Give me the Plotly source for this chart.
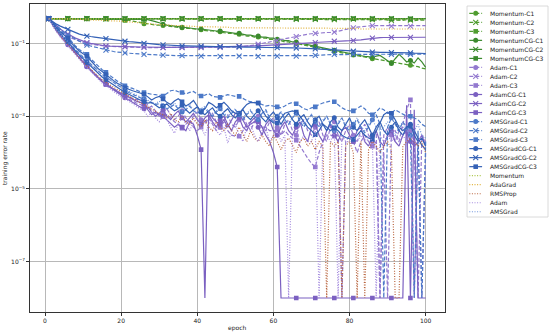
import plotly.graph_objects as go

EPOCHS = list(range(1, 101))

# ---- training error rate per epoch ----
momentum_c1 = [
    0.48, 0.48, 0.48, 0.48, 0.48, 0.48, 0.48, 0.48, 0.48, 0.48,
    0.48, 0.48, 0.48, 0.48, 0.48, 0.48, 0.47, 0.47, 0.47, 0.46,
    0.45, 0.43, 0.41, 0.39, 0.37, 0.35, 0.34, 0.33, 0.32, 0.32,
    0.31, 0.30, 0.29, 0.28, 0.28, 0.27, 0.26, 0.26, 0.25, 0.24,
    0.24, 0.23, 0.22, 0.22, 0.21, 0.21, 0.20, 0.19, 0.19, 0.18,
    0.18, 0.17, 0.16, 0.16, 0.15, 0.15, 0.14, 0.14, 0.13, 0.13,
    0.12, 0.12, 0.11, 0.11, 0.10, 0.10, 0.095, 0.09, 0.085, 0.08,
    0.077, 0.073, 0.07, 0.066, 0.063, 0.06, 0.057, 0.055, 0.052, 0.05,
    0.048, 0.046, 0.044, 0.042, 0.04, 0.038, 0.037, 0.035, 0.033, 0.032,
    0.03, 0.029, 0.028, 0.027, 0.026, 0.025, 0.024, 0.023, 0.021, 0.02]
momentum_c2 = [
    0.48, 0.48, 0.48, 0.48, 0.48, 0.48, 0.48, 0.48, 0.48, 0.48,
    0.48, 0.48, 0.47, 0.48, 0.48, 0.47, 0.48, 0.48, 0.47, 0.47,
    0.47, 0.47, 0.48, 0.47, 0.47, 0.47, 0.47, 0.47, 0.47, 0.47,
    0.47, 0.47, 0.47, 0.47, 0.47, 0.47, 0.47, 0.47, 0.47, 0.47,
    0.47, 0.47, 0.47, 0.47, 0.47, 0.47, 0.47, 0.47, 0.47, 0.47,
    0.47, 0.47, 0.47, 0.46, 0.47, 0.47, 0.46, 0.47, 0.46, 0.46,
    0.46, 0.46, 0.46, 0.46, 0.46, 0.46, 0.46, 0.46, 0.46, 0.46,
    0.46, 0.46, 0.46, 0.45, 0.46, 0.45, 0.46, 0.45, 0.45, 0.45,
    0.47, 0.46, 0.46, 0.45, 0.46, 0.45, 0.44, 0.45, 0.46, 0.44,
    0.43, 0.45, 0.44, 0.43, 0.45, 0.44, 0.42, 0.44, 0.43, 0.44]
momentum_c3 = [
    0.48, 0.48, 0.48, 0.48, 0.48, 0.48, 0.48, 0.48, 0.48, 0.48,
    0.48, 0.48, 0.48, 0.48, 0.48, 0.48, 0.48, 0.48, 0.48, 0.48,
    0.43, 0.46, 0.47, 0.48, 0.48, 0.48, 0.48, 0.48, 0.48, 0.48,
    0.48, 0.48, 0.48, 0.48, 0.48, 0.48, 0.48, 0.48, 0.48, 0.48,
    0.48, 0.48, 0.48, 0.48, 0.48, 0.48, 0.48, 0.48, 0.48, 0.48,
    0.48, 0.48, 0.48, 0.48, 0.48, 0.48, 0.48, 0.48, 0.48, 0.48,
    0.48, 0.48, 0.48, 0.48, 0.48, 0.48, 0.48, 0.48, 0.48, 0.48,
    0.48, 0.48, 0.48, 0.48, 0.48, 0.48, 0.48, 0.48, 0.48, 0.48,
    0.48, 0.48, 0.48, 0.48, 0.48, 0.47, 0.46, 0.47, 0.45, 0.46,
    0.47, 0.45, 0.44, 0.46, 0.47, 0.46, 0.47, 0.45, 0.47, 0.48]
momentumcg_c1 = [
    0.48, 0.48, 0.48, 0.48, 0.48, 0.48, 0.48, 0.48, 0.48, 0.48,
    0.48, 0.48, 0.48, 0.48, 0.48, 0.48, 0.48, 0.48, 0.48, 0.48,
    0.48, 0.48, 0.48, 0.47, 0.47, 0.46, 0.45, 0.43, 0.40, 0.37,
    0.34, 0.32, 0.31, 0.30, 0.29, 0.28, 0.27, 0.27, 0.26, 0.25,
    0.25, 0.24, 0.23, 0.23, 0.22, 0.22, 0.21, 0.20, 0.20, 0.19,
    0.19, 0.18, 0.17, 0.17, 0.16, 0.16, 0.15, 0.15, 0.14, 0.14,
    0.13, 0.13, 0.12, 0.12, 0.11, 0.11, 0.10, 0.097, 0.092, 0.088,
    0.084, 0.08, 0.076, 0.072, 0.068, 0.065, 0.062, 0.059, 0.056, 0.053,
    0.05, 0.048, 0.046, 0.044, 0.043, 0.042, 0.045, 0.047, 0.04, 0.034,
    0.028, 0.038, 0.05, 0.04, 0.031, 0.034, 0.029, 0.04, 0.031, 0.022]
momentumcg_c2 = [
    0.48, 0.48, 0.48, 0.48, 0.48, 0.48, 0.48, 0.48, 0.48, 0.48,
    0.48, 0.48, 0.48, 0.48, 0.48, 0.48, 0.48, 0.48, 0.48, 0.48,
    0.48, 0.48, 0.48, 0.48, 0.48, 0.48, 0.48, 0.48, 0.48, 0.48,
    0.48, 0.48, 0.48, 0.48, 0.48, 0.48, 0.48, 0.48, 0.48, 0.48,
    0.48, 0.48, 0.48, 0.48, 0.48, 0.48, 0.48, 0.48, 0.48, 0.48,
    0.48, 0.48, 0.48, 0.48, 0.48, 0.48, 0.48, 0.48, 0.48, 0.48,
    0.48, 0.48, 0.48, 0.48, 0.48, 0.48, 0.48, 0.48, 0.48, 0.48,
    0.48, 0.48, 0.48, 0.48, 0.48, 0.48, 0.48, 0.48, 0.48, 0.48,
    0.48, 0.48, 0.48, 0.48, 0.48, 0.48, 0.48, 0.48, 0.48, 0.48,
    0.48, 0.47, 0.48, 0.47, 0.48, 0.47, 0.48, 0.47, 0.47, 0.48]
momentumcg_c3 = [
    0.48, 0.48, 0.48, 0.48, 0.48, 0.48, 0.48, 0.48, 0.48, 0.48,
    0.48, 0.48, 0.48, 0.48, 0.48, 0.48, 0.48, 0.48, 0.48, 0.48,
    0.48, 0.48, 0.48, 0.48, 0.48, 0.48, 0.48, 0.48, 0.48, 0.48,
    0.48, 0.48, 0.48, 0.48, 0.48, 0.48, 0.48, 0.48, 0.48, 0.48,
    0.48, 0.48, 0.48, 0.48, 0.48, 0.48, 0.48, 0.48, 0.48, 0.48,
    0.48, 0.48, 0.48, 0.48, 0.48, 0.48, 0.48, 0.48, 0.48, 0.48,
    0.48, 0.48, 0.48, 0.48, 0.48, 0.48, 0.48, 0.48, 0.48, 0.48,
    0.48, 0.48, 0.48, 0.48, 0.48, 0.48, 0.48, 0.48, 0.48, 0.48,
    0.48, 0.48, 0.48, 0.48, 0.48, 0.48, 0.48, 0.48, 0.48, 0.48,
    0.48, 0.48, 0.48, 0.48, 0.48, 0.48, 0.48, 0.48, 0.48, 0.48]

adam_c1 = [
    0.48, 0.32, 0.23, 0.17, 0.13, 0.10, 0.075, 0.056, 0.042, 0.032,
    0.025, 0.019, 0.015, 0.012, 0.0095, 0.0078, 0.0065, 0.0055, 0.0047, 0.004,
    0.0035, 0.003, 0.0026, 0.0023, 0.0021, 0.0019, 0.0016, 0.0019, 0.0014, 0.0011,
    0.0013, 0.0016, 0.0011, 0.0008, 0.001, 0.0014, 0.0009, 0.0007, 0.001, 0.0013,
    0.0008, 0.0006, 0.0009, 0.0012, 0.0007, 0.0005, 0.0008, 0.0011, 0.0006, 0.0005,
    0.0008, 0.001, 0.0006, 0.0004, 0.0007, 0.001, 0.0005, 0.0004, 0.0007, 0.0009,
    0.0005, 0.0003, 0.0006, 0.0008, 0.0004, 0.0003, 0.0006, 0.0008, 0.0004, 0.0003,
    0.0005, 0.0007, 0.0003, 0.0002, 0.0005, 0.0007, 0.0003, 0.0002, 0.0004, 0.0006,
    0.0003, 0.0002, 0.0004, 0.0006, 0.0003, 0.0002, 0.0004, 1e-8, 0.0003, 0.0005,
    0.0003, 0.0002, 0.0004, 0.0005, 0.0003, 0.0004, 0.0002, 1e-8, 0.0003, 0.0002]
adam_c2 = [
    0.48, 0.36, 0.28, 0.22, 0.18, 0.155, 0.14, 0.125, 0.115, 0.105,
    0.10, 0.096, 0.092, 0.089, 0.087, 0.085, 0.083, 0.082, 0.081, 0.08,
    0.08, 0.079, 0.079, 0.078, 0.078, 0.078, 0.077, 0.077, 0.077, 0.077,
    0.077, 0.077, 0.077, 0.077, 0.077, 0.077, 0.077, 0.077, 0.077, 0.077,
    0.077, 0.077, 0.078, 0.078, 0.078, 0.078, 0.079, 0.079, 0.079, 0.08,
    0.08, 0.082, 0.084, 0.086, 0.09, 0.095, 0.10, 0.105, 0.11, 0.115,
    0.12, 0.125, 0.13, 0.138, 0.146, 0.155, 0.165, 0.175, 0.18, 0.185,
    0.19, 0.195, 0.20, 0.20, 0.20, 0.205, 0.215, 0.23, 0.245, 0.26,
    0.27, 0.28, 0.29, 0.30, 0.305, 0.31, 0.31, 0.31, 0.31, 0.30,
    0.30, 0.30, 0.30, 0.30, 0.30, 0.30, 0.30, 0.30, 0.31, 0.31]
adam_c3 = [
    0.48, 0.34, 0.25, 0.19, 0.15, 0.12, 0.085, 0.06, 0.043, 0.032,
    0.024, 0.018, 0.014, 0.011, 0.009, 0.0076, 0.0065, 0.0056, 0.0048, 0.0042,
    0.0038, 0.0034, 0.0031, 0.0029, 0.0028, 0.0028, 0.002, 0.0014, 0.0012, 0.001,
    9.8e-4, 1.1e-3, 9e-4, 7e-4, 6e-4, 4.7e-4, 6e-4, 8e-4, 5e-4, 4e-4,
    5e-4, 7e-4, 9e-4, 6e-4, 4e-4, 5e-4, 7e-4, 4e-4, 3e-4, 2.8e-4,
    2.8e-4, 4e-4, 6e-4, 7e-4, 7e-4, 7e-4, 5e-4, 5e-4, 4e-4, 4e-4,
    4.2e-4, 3e-4, 4e-4, 3e-4, 2.5e-4, 2.2e-4, 1.5e-4, 1e-4, 7e-5, 5e-5,
    4e-5, 1e-4, 2e-4, 3e-4, 3e-4, 2.8e-4, 3e-4, 1e-8, 2e-4, 3e-4,
    2e-4, 1e-4, 2e-4, 3e-4, 2e-4, 1.5e-4, 2e-4, 1e-8, 1e-4, 1e-8,
    3.4e-4, 4e-4, 2e-4, 6e-4, 1.5e-3, 2.8e-3, 1e-8, 2e-4, 1e-8, 1e-4]
adamcg_c1 = [
    0.48, 0.31, 0.22, 0.16, 0.12, 0.092, 0.07, 0.052, 0.039, 0.03,
    0.023, 0.018, 0.014, 0.011, 0.009, 0.0074, 0.0062, 0.0052, 0.0044, 0.0038,
    0.0032, 0.0028, 0.0024, 0.0021, 0.0018, 0.0016, 0.0018, 0.0013, 0.001, 0.0012,
    0.0015, 0.001, 0.0008, 0.0011, 0.0014, 0.0009, 0.0007, 0.0009, 0.0012, 0.0008,
    0.0006, 0.0009, 0.0011, 0.0007, 0.0005, 0.0008, 0.001, 0.0006, 0.0004, 0.0007,
    0.0009, 0.0005, 0.0004, 0.0007, 0.0009, 0.0005, 0.0003, 0.0006, 0.0008, 0.0004,
    0.0003, 0.0005, 0.0007, 0.0004, 0.0003, 0.0005, 0.0007, 0.0003, 0.0002, 0.0005,
    0.0006, 0.0003, 0.0002, 0.0004, 0.0006, 0.0003, 0.0002, 0.0004, 0.0005, 0.0003,
    0.0002, 0.0004, 0.0005, 0.0002, 0.00015, 0.0003, 0.0004, 0.0002, 0.00015, 0.0003,
    0.0004, 0.0002, 0.00015, 0.0003, 0.0004, 0.0002, 0.00015, 0.0002, 0.0003, 0.00015]
adamcg_c2 = [
    0.48, 0.38, 0.30, 0.25, 0.21, 0.18, 0.16, 0.14, 0.125, 0.115,
    0.105, 0.10, 0.095, 0.09, 0.088, 0.085, 0.084, 0.083, 0.083, 0.082,
    0.082, 0.081, 0.081, 0.08, 0.08, 0.08, 0.079, 0.079, 0.079, 0.078,
    0.078, 0.078, 0.078, 0.078, 0.078, 0.078, 0.078, 0.078, 0.079, 0.079,
    0.079, 0.08, 0.08, 0.08, 0.08, 0.081, 0.081, 0.082, 0.082, 0.083,
    0.083, 0.084, 0.084, 0.085, 0.085, 0.086, 0.087, 0.088, 0.089, 0.09,
    0.091, 0.092, 0.093, 0.094, 0.095, 0.096, 0.098, 0.10, 0.102, 0.104,
    0.106, 0.108, 0.11, 0.112, 0.114, 0.115, 0.116, 0.117, 0.118, 0.119,
    0.12, 0.123, 0.126, 0.13, 0.135, 0.14, 0.143, 0.145, 0.146, 0.146,
    0.146, 0.146, 0.146, 0.147, 0.147, 0.147, 0.147, 0.148, 0.148, 0.148]
adamcg_c3 = [
    0.48, 0.33, 0.24, 0.18, 0.14, 0.12, 0.08, 0.055, 0.04, 0.03,
    0.024, 0.018, 0.014, 0.011, 0.009, 0.0076, 0.0065, 0.0056, 0.0048, 0.0042,
    0.0038, 0.0033, 0.0029, 0.0026, 0.0024, 0.0022, 0.0015, 0.0011, 0.0013, 0.0011,
    1e-3, 8e-4, 6e-4, 5e-4, 6e-4, 5e-4, 4e-4, 7e-4, 6e-4, 3e-4,
    1.2e-4, 1e-8, 1.4e-3, 9e-4, 7e-4, 6e-4, 8e-4, 5e-4, 8e-4, 1.2e-3,
    1.2e-3, 8e-4, 5e-4, 6e-4, 7e-4, 7e-4, 5e-4, 3e-4, 2e-4, 1e-4,
    4e-5, 1e-8, 1e-8, 1e-8, 1e-8, 1e-8, 1e-8, 1e-8, 1e-8, 1e-8,
    1e-8, 1e-8, 1e-8, 1e-8, 1e-8, 1e-8, 1e-8, 1e-8, 1e-8, 1e-8,
    1e-8, 1e-8, 1e-8, 1e-8, 1e-8, 1e-8, 1e-8, 1e-8, 1e-8, 1e-8,
    1e-8, 1e-8, 1e-8, 1e-8, 2e-3, 1e-8, 1.5e-3, 1e-8, 1e-8, 1e-8]

amsgrad_c1 = [
    0.48, 0.34, 0.25, 0.19, 0.15, 0.12, 0.09, 0.068, 0.052, 0.042,
    0.034, 0.027, 0.021, 0.017, 0.014, 0.012, 0.01, 0.0085, 0.0072, 0.0062,
    0.0052, 0.0045, 0.004, 0.0036, 0.0033, 0.003, 0.0026, 0.0023, 0.0021, 0.0022,
    0.0019, 0.0016, 0.0018, 0.0021, 0.0016, 0.0013, 0.0015, 0.0019, 0.0014, 0.0012,
    0.0014, 0.0017, 0.0012, 0.001, 0.0013, 0.0016, 0.0011, 0.0009, 0.0012, 0.0015,
    0.0011, 0.0008, 0.0011, 0.0014, 0.001, 0.0008, 0.0012, 0.0015, 0.0009, 0.0007,
    0.001, 0.0013, 0.0008, 0.0006, 0.0009, 0.0012, 0.0007, 0.0005, 0.0008, 0.0011,
    0.0007, 0.0005, 0.0007, 0.001, 0.0006, 0.0004, 0.0006, 0.0009, 0.0005, 0.0004,
    0.0006, 0.0008, 0.0005, 0.00035, 0.0005, 0.0008, 0.0011, 0.0006, 1e-8, 0.0005,
    0.0009, 0.0006, 0.0004, 0.0007, 0.0005, 0.0003, 1e-8, 0.0004, 1e-8, 0.0002]
amsgrad_c2 = [
    0.48, 0.38, 0.30, 0.24, 0.20, 0.17, 0.15, 0.13, 0.115, 0.10,
    0.09, 0.085, 0.08, 0.075, 0.07, 0.066, 0.063, 0.06, 0.058, 0.056,
    0.055, 0.054, 0.053, 0.052, 0.051, 0.05, 0.05, 0.049, 0.049, 0.048,
    0.048, 0.047, 0.047, 0.047, 0.046, 0.046, 0.046, 0.046, 0.045, 0.045,
    0.045, 0.045, 0.045, 0.044, 0.044, 0.044, 0.044, 0.045, 0.045, 0.045,
    0.045, 0.046, 0.046, 0.045, 0.045, 0.044, 0.044, 0.045, 0.046, 0.046,
    0.045, 0.044, 0.044, 0.044, 0.045, 0.045, 0.044, 0.044, 0.045, 0.046,
    0.047, 0.048, 0.049, 0.05, 0.05, 0.05, 0.049, 0.048, 0.049, 0.05,
    0.05, 0.05, 0.049, 0.049, 0.05, 0.05, 0.05, 0.049, 0.049, 0.05,
    0.05, 0.05, 0.049, 0.049, 0.049, 0.05, 0.05, 0.05, 0.05, 0.051]
amsgrad_c3 = [
    0.48, 0.37, 0.29, 0.23, 0.18, 0.15, 0.11, 0.085, 0.068, 0.058,
    0.05, 0.038, 0.03, 0.024, 0.019, 0.016, 0.013, 0.011, 0.0092, 0.008,
    0.0069, 0.0062, 0.0058, 0.0052, 0.0047, 0.0045, 0.0042, 0.004, 0.0039, 0.0037,
    0.0036, 0.0042, 0.005, 0.0052, 0.0047, 0.0045, 0.0041, 0.0045, 0.0048, 0.004,
    0.0036, 0.0038, 0.0042, 0.0035, 0.0034, 0.0033, 0.0036, 0.0039, 0.0037, 0.0035,
    0.0035, 0.003, 0.0027, 0.0025, 0.0024, 0.0023, 0.0021, 0.0019, 0.002, 0.0019,
    0.0018, 0.0017, 0.0019, 0.0022, 0.0024, 0.0022, 0.0019, 0.0016, 0.0015, 0.0017,
    0.0018, 0.0021, 0.0023, 0.0025, 0.0026, 0.0025, 0.002, 0.0017, 0.0015, 0.0014,
    0.0014, 0.0016, 0.0019, 0.0016, 0.0012, 0.0011, 0.0013, 0.0017, 0.0015, 0.0012,
    0.0012, 0.0015, 0.0013, 0.0011, 0.001, 0.001, 0.0009, 0.0008, 0.0006, 0.00052]
amsgradcg_c1 = [
    0.48, 0.33, 0.24, 0.18, 0.14, 0.11, 0.083, 0.063, 0.048, 0.038,
    0.03, 0.024, 0.019, 0.015, 0.012, 0.01, 0.0085, 0.0072, 0.006, 0.0052,
    0.0045, 0.004, 0.0035, 0.0031, 0.0028, 0.0025, 0.0023, 0.0024, 0.002, 0.0017,
    0.0019, 0.0022, 0.0017, 0.0014, 0.0016, 0.002, 0.0015, 0.0012, 0.0015, 0.0018,
    0.0013, 0.0011, 0.0014, 0.0017, 0.0012, 0.001, 0.0013, 0.0016, 0.0011, 0.0009,
    0.0012, 0.0015, 0.001, 0.0008, 0.0011, 0.0014, 0.0009, 0.0007, 0.001, 0.0013,
    0.0009, 0.0006, 0.0009, 0.0012, 0.0008, 0.0006, 0.0009, 0.0011, 0.0007, 0.0005,
    0.0008, 0.001, 0.0006, 0.0004, 0.0007, 0.0009, 0.0005, 0.0004, 0.0006, 0.0009,
    0.0005, 0.0004, 0.0006, 0.0008, 0.0005, 0.0003, 0.0005, 0.0007, 0.0004, 0.0003,
    0.0005, 0.0007, 0.0004, 0.0003, 0.0005, 0.0006, 0.0003, 0.0002, 0.00025, 0.00015]
amsgradcg_c2 = [
    0.48, 0.40, 0.34, 0.30, 0.27, 0.245, 0.22, 0.20, 0.18, 0.17,
    0.16, 0.155, 0.15, 0.145, 0.14, 0.135, 0.13, 0.125, 0.12, 0.118,
    0.115, 0.112, 0.11, 0.107, 0.105, 0.10, 0.098, 0.097, 0.095, 0.093,
    0.092, 0.09, 0.09, 0.088, 0.087, 0.086, 0.086, 0.085, 0.085, 0.084,
    0.084, 0.083, 0.083, 0.082, 0.082, 0.082, 0.081, 0.081, 0.08, 0.08,
    0.08, 0.08, 0.079, 0.079, 0.079, 0.078, 0.078, 0.078, 0.078, 0.077,
    0.077, 0.077, 0.076, 0.076, 0.076, 0.075, 0.075, 0.074, 0.073, 0.072,
    0.071, 0.07, 0.069, 0.068, 0.067, 0.066, 0.065, 0.064, 0.063, 0.062,
    0.061, 0.06, 0.06, 0.059, 0.059, 0.058, 0.058, 0.057, 0.057, 0.057,
    0.056, 0.056, 0.056, 0.055, 0.055, 0.055, 0.054, 0.054, 0.054, 0.053]
amsgradcg_c3 = [
    0.48, 0.36, 0.27, 0.21, 0.17, 0.14, 0.10, 0.078, 0.062, 0.052,
    0.045, 0.034, 0.026, 0.02, 0.017, 0.014, 0.011, 0.0095, 0.008, 0.007,
    0.006, 0.0055, 0.005, 0.0046, 0.0043, 0.004, 0.0034, 0.0028, 0.0032, 0.0035,
    0.003, 0.0024, 0.0021, 0.0026, 0.003, 0.0025, 0.0019, 0.0022, 0.0027, 0.0018,
    0.0013, 0.0016, 0.0024, 0.0021, 0.0017, 0.002, 0.0024, 0.0019, 0.0014, 0.0012,
    0.0012, 0.0016, 0.0021, 0.0024, 0.0023, 0.0023, 0.0015, 0.001, 0.0008, 0.00065,
    0.00065, 0.0009, 0.0012, 0.0013, 0.0014, 0.0013, 0.001, 0.0007, 0.0005, 0.0004,
    0.00031, 0.0004, 0.0006, 0.0005, 0.0004, 0.00048, 0.0004, 0.0003, 0.00026, 0.00024,
    0.00023, 0.0003, 0.0004, 0.0003, 0.00025, 0.00023, 0.0004, 0.0007, 0.0011, 0.0013,
    0.0012, 0.0008, 0.0005, 0.0004, 0.0005, 0.00052, 0.0004, 0.00025, 0.00016, 0.00012]

momentum = [
    0.48, 0.48, 0.48, 0.47, 0.47, 0.47, 0.47, 0.47, 0.47, 0.47,
    0.47, 0.47, 0.47, 0.47, 0.47, 0.47, 0.47, 0.47, 0.47, 0.47,
    0.47, 0.47, 0.47, 0.47, 0.47, 0.47, 0.47, 0.47, 0.47, 0.47,
    0.47, 0.47, 0.47, 0.47, 0.47, 0.47, 0.47, 0.47, 0.47, 0.47,
    0.47, 0.47, 0.47, 0.47, 0.47, 0.47, 0.47, 0.47, 0.47, 0.47,
    0.47, 0.47, 0.47, 0.47, 0.47, 0.47, 0.47, 0.47, 0.47, 0.47,
    0.47, 0.47, 0.47, 0.47, 0.47, 0.47, 0.47, 0.47, 0.47, 0.47,
    0.47, 0.47, 0.47, 0.47, 0.47, 0.47, 0.47, 0.47, 0.47, 0.47,
    0.47, 0.47, 0.47, 0.47, 0.47, 0.47, 0.47, 0.47, 0.47, 0.47,
    0.47, 0.47, 0.47, 0.47, 0.47, 0.47, 0.47, 0.47, 0.47, 0.47]
adagrad = [
    0.48, 0.48, 0.48, 0.47, 0.47, 0.47, 0.46, 0.46, 0.46, 0.45,
    0.45, 0.45, 0.44, 0.44, 0.43, 0.43, 0.42, 0.42, 0.41, 0.41,
    0.40, 0.39, 0.38, 0.38, 0.37, 0.36, 0.35, 0.35, 0.34, 0.33,
    0.33, 0.32, 0.32, 0.31, 0.31, 0.30, 0.30, 0.30, 0.29, 0.29,
    0.29, 0.29, 0.28, 0.28, 0.28, 0.28, 0.28, 0.28, 0.27, 0.27,
    0.27, 0.27, 0.27, 0.27, 0.27, 0.27, 0.27, 0.27, 0.27, 0.27,
    0.27, 0.27, 0.27, 0.27, 0.26, 0.26, 0.26, 0.26, 0.26, 0.26,
    0.26, 0.26, 0.26, 0.26, 0.26, 0.26, 0.26, 0.26, 0.26, 0.26,
    0.26, 0.26, 0.25, 0.25, 0.25, 0.25, 0.25, 0.25, 0.25, 0.25,
    0.25, 0.25, 0.25, 0.25, 0.25, 0.25, 0.25, 0.25, 0.25, 0.25]
rmsprop = [
    0.48, 0.31, 0.22, 0.16, 0.12, 0.09, 0.068, 0.05, 0.038, 0.03,
    0.024, 0.019, 0.015, 0.012, 0.01, 0.0085, 0.0072, 0.0062, 0.0054, 0.0047,
    0.0041, 0.0036, 0.0031, 0.0027, 0.0024, 0.0021, 0.0018, 0.0016, 0.0014, 0.0012,
    0.0011, 0.0009, 0.0012, 0.0008, 0.0007, 0.001, 0.0007, 0.0006, 0.0009, 0.0006,
    0.0005, 0.0008, 0.0005, 0.0004, 0.0007, 0.0005, 0.0004, 0.0006, 0.0004, 0.0003,
    0.0005, 0.0003, 0.0002, 0.0004, 0.00025, 0.0002, 0.0003, 0.0002, 0.00015, 0.0003,
    0.0002, 0.00012, 0.0002, 0.00025, 0.00015, 0.0001, 0.0002, 0.00025, 0.00015, 0.0002,
    0.00012, 0.0002, 0.00015, 1e-8, 0.0002, 0.00015, 0.0002, 1e-8, 0.00015, 0.0002,
    0.0001, 1e-8, 0.0002, 1e-8, 0.00012, 0.0002, 0.00015, 0.0001, 0.00015, 0.0002,
    0.00012, 1e-8, 1e-8, 0.00015, 0.0002, 0.00025, 0.0002, 0.00015, 0.0002, 0.0001]
adam = [
    0.48, 0.30, 0.21, 0.15, 0.11, 0.085, 0.064, 0.048, 0.036, 0.028,
    0.022, 0.017, 0.013, 0.01, 0.0082, 0.0068, 0.0057, 0.0048, 0.004, 0.0034,
    0.003, 0.0026, 0.0022, 0.0019, 0.0016, 0.0014, 0.001, 0.0013, 0.0009, 0.0007,
    0.001, 0.0008, 0.0005, 0.00034, 0.0006, 0.0009, 0.0006, 0.0004, 0.0007, 0.0009,
    0.0005, 0.0003, 0.0006, 0.0008, 0.0004, 0.0003, 0.0005, 0.00018, 0.0004, 0.0006,
    0.0003, 0.0002, 0.0005, 0.0006, 0.0003, 0.0002, 0.0004, 0.0005, 0.0002, 0.0003,
    0.0004, 0.0002, 0.0003, 1e-8, 0.0003, 0.0004, 0.0002, 0.0003, 0.0002, 0.0002,
    0.0004, 1e-8, 0.0002, 0.0003, 0.0002, 0.0004, 1e-8, 0.0003, 0.0002, 0.0002,
    0.0003, 0.0002, 0.0003, 0.0002, 0.0003, 0.0002, 1e-8, 0.0003, 0.0002, 0.0003,
    0.0002, 0.0003, 0.0002, 0.0003, 0.0002, 0.0003, 0.0002, 0.0002, 0.0003, 0.0002]
amsgrad = [
    0.48, 0.33, 0.24, 0.18, 0.14, 0.11, 0.085, 0.066, 0.052, 0.041,
    0.033, 0.026, 0.021, 0.017, 0.014, 0.012, 0.01, 0.0086, 0.0074, 0.0064,
    0.0056, 0.0049, 0.0043, 0.0038, 0.0034, 0.003, 0.0027, 0.0024, 0.0022, 0.0026,
    0.002, 0.0016, 0.0019, 0.0023, 0.0017, 0.0014, 0.0018, 0.0021, 0.0015, 0.0012,
    0.0016, 0.0019, 0.0013, 0.0011, 0.0014, 0.0017, 0.0012, 0.001, 0.0013, 0.0016,
    0.0011, 0.0009, 0.0012, 0.0015, 0.001, 0.0008, 0.0011, 0.0014, 0.0009, 0.0007,
    0.001, 0.0013, 0.0008, 0.0006, 0.0009, 0.0012, 0.0008, 0.0006, 0.0008, 0.0011,
    0.0007, 0.0005, 0.0008, 0.001, 0.0006, 0.0005, 0.0007, 0.0009, 0.0006, 0.0004,
    0.0006, 0.0009, 0.0005, 0.0004, 0.0006, 0.0008, 0.0005, 0.0004, 0.0005, 0.0007,
    0.0004, 0.0003, 0.0005, 0.0007, 0.0004, 0.0003, 0.0004, 0.0006, 0.0003, 0.00025]

X_TICKS = [0, 20, 40, 60, 80, 100]
Y_TICKS = [1e-1, 1e-3, 1e-5, 1e-7]
Y_TICK_TEXT = ["10<sup>\u22121</sup>", "10<sup>\u22123</sup>",
               "10<sup>\u22125</sup>", "10<sup>\u22127</sup>"]

# ---- styles ----
GREEN_A, GREEN_B = "#4f9c2f", "#3b8a2e"
PURPLE_A, PURPLE_B = "#9379cf", "#7b60c1"
BLUE_A, BLUE_B = "#4c79c8", "#3461b6"
DASH = "4px,2px"
DOT = "1px,1.6px"

SERIES = [
    ("Momentum-C1", momentum_c1, GREEN_A, DASH, "circle"),
    ("Momentum-C2", momentum_c2, GREEN_A, DASH, "x-thin"),
    ("Momentum-C3", momentum_c3, GREEN_A, DASH, "square"),
    ("MomentumCG-C1", momentumcg_c1, GREEN_B, "solid", "circle"),
    ("MomentumCG-C2", momentumcg_c2, GREEN_B, "solid", "x-thin"),
    ("MomentumCG-C3", momentumcg_c3, GREEN_B, "solid", "square"),
    ("Adam-C1", adam_c1, PURPLE_A, DASH, "circle"),
    ("Adam-C2", adam_c2, PURPLE_A, DASH, "x-thin"),
    ("Adam-C3", adam_c3, PURPLE_A, DASH, "square"),
    ("AdamCG-C1", adamcg_c1, PURPLE_B, "solid", "circle"),
    ("AdamCG-C2", adamcg_c2, PURPLE_B, "solid", "x-thin"),
    ("AdamCG-C3", adamcg_c3, PURPLE_B, "solid", "square"),
    ("AMSGrad-C1", amsgrad_c1, BLUE_A, DASH, "circle"),
    ("AMSGrad-C2", amsgrad_c2, BLUE_A, DASH, "x-thin"),
    ("AMSGrad-C3", amsgrad_c3, BLUE_A, DASH, "square"),
    ("AMSGradCG-C1", amsgradcg_c1, BLUE_B, "solid", "circle"),
    ("AMSGradCG-C2", amsgradcg_c2, BLUE_B, "solid", "x-thin"),
    ("AMSGradCG-C3", amsgradcg_c3, BLUE_B, "solid", "square"),
    ("Momentum", momentum, "#a9c444", DOT, None),
    ("AdaGrad", adagrad, "#e0b13a", DOT, None),
    ("RMSProp", rmsprop, "#b9653f", DOT, None),
    ("Adam", adam, "#a48ade", DOT, None),
    ("AMSGrad", amsgrad, "#7094dc", DOT, None),
]
for nm, vals, *_ in SERIES:
    assert len(vals) == len(EPOCHS), nm

LW = 1.2
MS = {"circle": 5, "square": 4.6, "x-thin": 5}


def marker_style(sym, col):
    if sym == "x-thin":
        return dict(symbol=sym, size=MS[sym], color=col, line=dict(color=col, width=1.1))
    return dict(symbol=sym, size=MS[sym], color=col, line=dict(width=0))


fig = go.Figure()
for name, vals, col, dash, sym in SERIES:
    fig.add_trace(go.Scatter(x=EPOCHS, y=vals, mode="lines", name=name,
                             line=dict(color=col, width=LW, dash=dash),
                             hoverinfo="skip"))
    if sym:
        fig.add_trace(go.Scatter(x=EPOCHS[::5], y=vals[::5], mode="markers",
                                 marker=marker_style(sym, col), hoverinfo="skip"))

# ---- hand-made legend on its own small axes ----
annotations = []
for i, (name, vals, col, dash, sym) in enumerate(SERIES):
    fig.add_trace(go.Scatter(x=[2.3, 15.1], y=[i, i], mode="lines",
                             line=dict(color=col, width=LW, dash=dash),
                             xaxis="x2", yaxis="y2", hoverinfo="skip"))
    if sym:
        fig.add_trace(go.Scatter(x=[8.7], y=[i], mode="markers",
                                 marker=marker_style(sym, col),
                                 xaxis="x2", yaxis="y2", hoverinfo="skip"))
    annotations.append(dict(x=20.5, y=i, xref="x2", yref="y2", text=name,
                            showarrow=False, xanchor="left", yanchor="middle",
                            font=dict(size=6, color="#222")))

W, H = 550, 334
ML, MR, MT, MB = 30, 2, 4, 22
PW, PH = W - ML - MR, H - MT - MB
PLOT_RIGHT = 444.5

annotations.append(dict(x=(237.25 - ML) / PW, y=(PH + MT - 328.3) / PH, xref="paper", yref="paper",
                        text="epoch", showarrow=False, font=dict(size=6, color="#222"),
                        xanchor="center", yanchor="middle"))
annotations.append(dict(x=(5 - ML) / PW, y=0.5, xref="paper", yref="paper",
                        text="training error rate", textangle=-90, showarrow=False,
                        font=dict(size=6, color="#222"), xanchor="center", yanchor="middle"))

axis_common = dict(showgrid=True, gridcolor="#b8b8b8", gridwidth=0.8,
                   showline=True, mirror=True, linecolor="#333", linewidth=0.8,
                   ticks="outside", ticklen=3, tickwidth=0.8, tickcolor="#333",
                   zeroline=False, tickfont=dict(size=6, color="#222"))

fig.update_layout(
    width=W, height=H, margin=dict(l=ML, r=MR, t=MT, b=MB),
    paper_bgcolor="white", plot_bgcolor="white", showlegend=False,
    font=dict(family="DejaVu Sans", size=6, color="#222"),
    xaxis=dict(domain=[0, (PLOT_RIGHT - ML) / PW], range=[-3.95, 104.95],
               tickmode="array", tickvals=X_TICKS, **axis_common),
    yaxis=dict(type="log", range=[-8.385, 0.085], tickmode="array",
               tickvals=Y_TICKS, ticktext=Y_TICK_TEXT, **axis_common),
    xaxis2=dict(domain=[(467 - ML) / PW, 1.0], range=[0, 81], visible=False,
                fixedrange=True, anchor="y2"),
    yaxis2=dict(domain=[(PH + MT - 217) / PH, (PH + MT - 6) / PH], range=[22.58, -0.81],
                visible=False, fixedrange=True, anchor="x2"),
    shapes=[dict(type="rect", xref="x2 domain", yref="y2 domain", x0=0, x1=1, y0=0, y1=1,
                 line=dict(color="#d0d0d0", width=0.8), fillcolor="white", layer="below")],
    annotations=annotations,
)

fig.write_html("out.html", config={"displayModeBar": False},
               post_script="document.body.style.margin='0';document.body.style.overflow='hidden';")
